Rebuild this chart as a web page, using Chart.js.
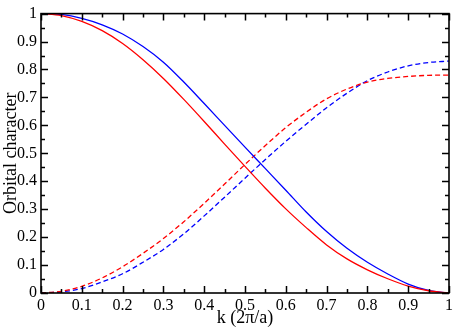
<!DOCTYPE html>
<html>
<head>
<meta charset="utf-8">
<script src="https://cdn.jsdelivr.net/npm/chart.js@4/dist/chart.umd.min.js"></script>
<style>
  html, body { margin: 0; padding: 0; background: #fff; }
  #wrap { width: 457px; height: 331px; }
</style>
</head>
<body>
<div id="wrap"><canvas id="c" width="457" height="331"></canvas></div>
<script>
const kValues = [0, 0.05, 0.1, 0.15, 0.2, 0.25, 0.3, 0.35, 0.4, 0.45, 0.5, 0.55, 0.6, 0.65, 0.7, 0.75, 0.8, 0.85, 0.9, 0.95, 1.0];
const redSolid  = [1.000, 0.993, 0.972, 0.939, 0.893, 0.835, 0.768, 0.693, 0.614, 0.533, 0.453, 0.375, 0.301, 0.234, 0.172, 0.122, 0.083, 0.051, 0.025, 0.008, 0.000];
const blueSolid = [1.000, 0.997, 0.983, 0.960, 0.927, 0.882, 0.826, 0.755, 0.678, 0.600, 0.522, 0.445, 0.368, 0.290, 0.220, 0.160, 0.110, 0.068, 0.032, 0.009, 0.000];
const redDashed = [0.000, 0.006, 0.024, 0.054, 0.094, 0.142, 0.195, 0.255, 0.321, 0.390, 0.460, 0.528, 0.592, 0.647, 0.695, 0.730, 0.755, 0.768, 0.775, 0.779, 0.780];
const blueDashed= [0.000, 0.004, 0.016, 0.040, 0.069, 0.110, 0.156, 0.212, 0.276, 0.343, 0.411, 0.478, 0.543, 0.604, 0.663, 0.715, 0.760, 0.791, 0.813, 0.825, 0.830];

const majorTicks = [0, 0.1, 0.2, 0.3, 0.4, 0.5, 0.6, 0.7, 0.8, 0.9, 1];
const tickLabels = ['0', '0.1', '0.2', '0.3', '0.4', '0.5', '0.6', '0.7', '0.8', '0.9', '1'];
const minorTicks = [0.05, 0.15, 0.25, 0.35, 0.45, 0.55, 0.65, 0.75, 0.85, 0.95];
const xTitle = 'k (2π/a)';
const yTitle = 'Orbital character';

function pts(ys) { return kValues.map((k, i) => ({ x: k, y: ys[i] })); }

const FONT = 'Liberation Serif';

const framePlugin = {
  id: 'frame',
  afterDatasetsDraw(chart) {
    const { ctx, chartArea: a, scales } = chart;
    const xs = scales.x, ys = scales.y;
    ctx.save();
    ctx.strokeStyle = '#000';
    ctx.lineWidth = 1.5;
    ctx.beginPath();
    const drawTick = (v, len) => {
      const px = Math.round(xs.getPixelForValue(v)) + 0.5;
      ctx.moveTo(px, a.bottom); ctx.lineTo(px, a.bottom - len);
      ctx.moveTo(px, a.top); ctx.lineTo(px, a.top + len);
      const py = Math.round(ys.getPixelForValue(v)) + 0.5;
      ctx.moveTo(a.left, py); ctx.lineTo(a.left + len, py);
      ctx.moveTo(a.right, py); ctx.lineTo(a.right - len, py);
    };
    majorTicks.forEach(v => drawTick(v, 7));
    minorTicks.forEach(v => drawTick(v, 4));
    ctx.stroke();
    ctx.lineWidth = 1.6;
    ctx.strokeRect(a.left, a.top, a.right - a.left, a.bottom - a.top);
    ctx.restore();
  }
};

const labelFor = (v) => {
  const i = majorTicks.findIndex(t => Math.abs(t - v) < 1e-9);
  return i >= 0 ? tickLabels[i] : '';
};

new Chart(document.getElementById('c'), {
  type: 'line',
  data: {
    datasets: [
      { data: pts(redSolid),   borderColor: '#ff0000', borderWidth: 1.3 },
      { data: pts(blueSolid),  borderColor: '#0000ff', borderWidth: 1.3 },
      { data: pts(redDashed),  borderColor: '#ff0000', borderWidth: 1.3, borderDash: [5, 3] },
      { data: pts(blueDashed), borderColor: '#0000ff', borderWidth: 1.3, borderDash: [5, 3] }
    ]
  },
  options: {
    responsive: false,
    animation: false,
    devicePixelRatio: 1,
    layout: { padding: { top: 7, right: 8, left: 0, bottom: 0 } },
    elements: { point: { radius: 0 }, line: { cubicInterpolationMode: 'monotone', fill: false } },
    plugins: { legend: { display: false }, tooltip: { enabled: false } },
    scales: {
      x: {
        type: 'linear', min: 0, max: 1,
        afterFit: s => { s.height = 38; },
        afterBuildTicks: s => { s.ticks = majorTicks.map(v => ({ value: v })); },
        grid: { display: false, drawTicks: false },
        border: { display: false },
        ticks: { color: '#000', font: { family: FONT, size: 16 }, padding: 3, maxRotation: 0, autoSkip: false, callback: labelFor },
        title: { display: true, text: xTitle, color: '#000', font: { family: FONT, size: 18 }, padding: { top: 0, bottom: 2 } }
      },
      y: {
        type: 'linear', min: 0, max: 1,
        afterFit: s => { s.width = 41; },
        afterBuildTicks: s => { s.ticks = majorTicks.map(v => ({ value: v })); },
        grid: { display: false, drawTicks: false },
        border: { display: false },
        ticks: { color: '#000', font: { family: FONT, size: 16 }, padding: 4, autoSkip: false, callback: labelFor },
        title: { display: true, text: yTitle, color: '#000', font: { family: FONT, size: 18 }, padding: { top: 0, bottom: 0 } }
      }
    }
  },
  plugins: [framePlugin]
});
</script>
</body>
</html>
